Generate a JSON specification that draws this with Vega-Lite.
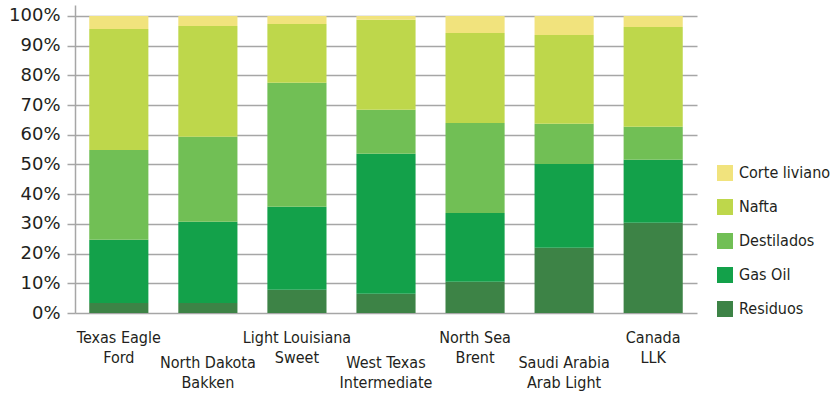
{
  "$schema": "https://vega.github.io/schema/vega-lite/v6.json",
  "width": 622,
  "height": 308,
  "autosize": {"type": "none"},
  "padding": {"left": 75, "top": 5, "right": 133, "bottom": 86},
  "background": "white",
  "data": {
    "values": [
      {"crudo": "Texas Eagle Ford", "producto": "Residuos", "pct": 3.4},
      {"crudo": "Texas Eagle Ford", "producto": "Gas Oil", "pct": 21.3},
      {"crudo": "Texas Eagle Ford", "producto": "Destilados", "pct": 30.2},
      {"crudo": "Texas Eagle Ford", "producto": "Nafta", "pct": 40.7},
      {"crudo": "Texas Eagle Ford", "producto": "Corte liviano", "pct": 4.4},
      {"crudo": "North Dakota Bakken", "producto": "Residuos", "pct": 3.4},
      {"crudo": "North Dakota Bakken", "producto": "Gas Oil", "pct": 27.3},
      {"crudo": "North Dakota Bakken", "producto": "Destilados", "pct": 28.6},
      {"crudo": "North Dakota Bakken", "producto": "Nafta", "pct": 37.3},
      {"crudo": "North Dakota Bakken", "producto": "Corte liviano", "pct": 3.4},
      {"crudo": "Light Louisiana Sweet", "producto": "Residuos", "pct": 7.8},
      {"crudo": "Light Louisiana Sweet", "producto": "Gas Oil", "pct": 28.0},
      {"crudo": "Light Louisiana Sweet", "producto": "Destilados", "pct": 41.7},
      {"crudo": "Light Louisiana Sweet", "producto": "Nafta", "pct": 19.8},
      {"crudo": "Light Louisiana Sweet", "producto": "Corte liviano", "pct": 2.7},
      {"crudo": "West Texas Intermediate", "producto": "Residuos", "pct": 6.5},
      {"crudo": "West Texas Intermediate", "producto": "Gas Oil", "pct": 47.1},
      {"crudo": "West Texas Intermediate", "producto": "Destilados", "pct": 14.8},
      {"crudo": "West Texas Intermediate", "producto": "Nafta", "pct": 30.3},
      {"crudo": "West Texas Intermediate", "producto": "Corte liviano", "pct": 1.3},
      {"crudo": "North Sea Brent", "producto": "Residuos", "pct": 10.5},
      {"crudo": "North Sea Brent", "producto": "Gas Oil", "pct": 23.2},
      {"crudo": "North Sea Brent", "producto": "Destilados", "pct": 30.3},
      {"crudo": "North Sea Brent", "producto": "Nafta", "pct": 30.3},
      {"crudo": "North Sea Brent", "producto": "Corte liviano", "pct": 5.7},
      {"crudo": "Saudi Arabia Arab Light", "producto": "Residuos", "pct": 22.0},
      {"crudo": "Saudi Arabia Arab Light", "producto": "Gas Oil", "pct": 28.2},
      {"crudo": "Saudi Arabia Arab Light", "producto": "Destilados", "pct": 13.5},
      {"crudo": "Saudi Arabia Arab Light", "producto": "Nafta", "pct": 29.9},
      {"crudo": "Saudi Arabia Arab Light", "producto": "Corte liviano", "pct": 6.4},
      {"crudo": "Canada LLK", "producto": "Residuos", "pct": 30.4},
      {"crudo": "Canada LLK", "producto": "Gas Oil", "pct": 21.2},
      {"crudo": "Canada LLK", "producto": "Destilados", "pct": 11.1},
      {"crudo": "Canada LLK", "producto": "Nafta", "pct": 33.6},
      {"crudo": "Canada LLK", "producto": "Corte liviano", "pct": 3.7}
    ]
  },
  "transform": [
    {"calculate": "indexof(['Residuos','Gas Oil','Destilados','Nafta','Corte liviano'], datum.producto)", "as": "orden"}
  ],
  "mark": {"type": "bar"},
  "encoding": {
    "x": {
      "field": "crudo",
      "type": "nominal",
      "sort": null,
      "scale": {"paddingInner": 0.336, "paddingOuter": 0.16},
      "axis": {
        "title": null,
        "domain": false,
        "ticks": false,
        "labelAngle": 0,
        "labelOverlap": false,
        "labelBound": false,
        "labelFont": "Liberation Sans Narrow, DejaVu Sans Condensed, sans-serif",
        "labelFontSize": 16,
        "labelColor": "#231F20",
        "labelLineHeight": 20,
        "labelBaseline": "top",
        "labelAlign": "center",
        "labelPadding": {"condition": {"test": "indexof(['North Dakota Bakken','West Texas Intermediate','Saudi Arabia Arab Light'], datum.value) >= 0", "value": 41}, "value": 16},
        "labelExpr": "{'Texas Eagle Ford': ['Texas Eagle','Ford'], 'North Dakota Bakken': ['North Dakota','Bakken'], 'Light Louisiana Sweet': ['Light Louisiana','Sweet'], 'West Texas Intermediate': ['West Texas','Intermediate'], 'North Sea Brent': ['North Sea','Brent'], 'Saudi Arabia Arab Light': ['Saudi Arabia','Arab Light'], 'Canada LLK': ['Canada','LLK']}[datum.value]"
      }
    },
    "y": {
      "field": "pct",
      "type": "quantitative",
      "stack": "zero",
      "scale": {"domain": [0, 103.7], "nice": false, "zero": true},
      "axis": {
        "title": null,
        "values": [0, 10, 20, 30, 40, 50, 60, 70, 80, 90, 100],
        "labelExpr": "datum.value + '%'",
        "labelFont": "DejaVu Sans, sans-serif",
        "labelFontSize": 18,
        "labelColor": "#231F20",
        "labelPadding": 7,
        "domain": true,
        "domainColor": "#A6A6A6",
        "domainWidth": 1.5,
        "ticks": true,
        "tickSize": 8,
        "tickColor": "#A6A6A6",
        "tickWidth": 1.5,
        "grid": true,
        "gridColor": "#A6A6A6",
        "gridWidth": 1.5
      }
    },
    "color": {
      "field": "producto",
      "type": "nominal",
      "scale": {
        "domain": ["Corte liviano", "Nafta", "Destilados", "Gas Oil", "Residuos"],
        "range": ["#F1E37D", "#BED74B", "#71BF55", "#13A14A", "#3D8346"]
      },
      "legend": {
        "title": null,
        "orient": "none",
        "legendX": 642,
        "legendY": 160,
        "symbolType": "square",
        "symbolSize": 256,
        "symbolStrokeWidth": 0,
        "symbolOpacity": 1,
        "labelFont": "Liberation Sans Narrow, DejaVu Sans Condensed, sans-serif",
        "labelFontSize": 16,
        "labelColor": "#231F20",
        "labelOffset": 6,
        "rowPadding": 18
      }
    },
    "order": {"field": "orden", "type": "quantitative"}
  },
  "config": {"view": {"stroke": null}}
}
